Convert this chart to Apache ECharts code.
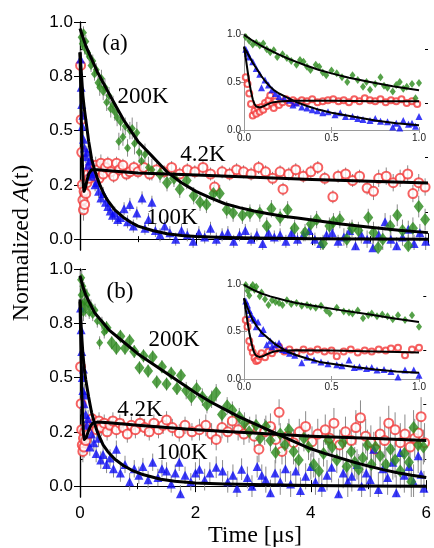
<!DOCTYPE html>
<html>
<head>
<meta charset="utf-8">
<script src="https://cdn.jsdelivr.net/npm/echarts@6/dist/echarts.min.js"></script>
<style>
  html, body { margin: 0; padding: 0; background: #fff; }
  #chart { width: 434px; height: 548px; }
</style>
</head>
<body>
<div id="chart"></div>
<script>
// tick labels
const yTickValues = [0, 0.25, 0.5, 0.75, 1];
const yTickLabels = ['0.0', '0.2', '0.5', '0.8', '1.0'];
const yMinorValues = [0.125, 0.375, 0.625, 0.875];
const xTickLabels = ['0', '2', '4', '6'];

// panel (a) data: [time, A, error]
const a200 = [[0.02,0.93,0.03],[0.04,0.90,0.03],[0.06,0.95,0.03],[0.08,0.88,0.03],[0.10,0.91,0.03],[0.13,0.86,0.03],[0.16,0.84,0.03],[0.19,0.80,0.03],[0.22,0.82,0.03],[0.25,0.76,0.03],[0.28,0.78,0.03],[0.31,0.72,0.03],[0.34,0.70,0.04],[0.37,0.74,0.04],[0.40,0.68,0.04],[0.43,0.70,0.04],[0.46,0.63,0.04],[0.50,0.66,0.04],[0.53,0.60,0.04],[0.57,0.62,0.04],[0.60,0.585,0.04],[0.64,0.56,0.04],[0.67,0.45,0.04],[0.70,0.54,0.04],[0.74,0.47,0.04],[0.78,0.52,0.04],[0.82,0.42,0.04],[0.86,0.50,0.04],[0.90,0.51,0.05],[0.94,0.44,0.05],[0.98,0.49,0.05],[1.02,0.40,0.05],[1.06,0.36,0.05],[1.12,0.39,0.05],[1.18,0.33,0.05],[1.24,0.32,0.05],
  [1.38,0.30,0.04],[1.50,0.26,0.04],[1.62,0.28,0.04],[1.72,0.23,0.04],[1.84,0.27,0.04],[1.96,0.20,0.04],[2.07,0.17,0.04],[2.18,0.16,0.04],[2.30,0.21,0.04],[2.41,0.21,0.04],[2.53,0.135,0.04],[2.64,0.12,0.04],[2.80,0.11,0.04],[2.93,0.12,0.04],[3.10,0.12,0.04],[3.22,0.06,0.04],[3.30,0.14,0.04],[3.45,0.10,0.04],[3.58,0.135,0.04],[3.70,0.05,0.04],[3.88,0.03,0.04],[3.98,0.07,0.04],[4.08,0.09,0.04],[4.19,-0.02,0.04],[4.30,0.06,0.04],[4.37,0.08,0.04],[4.48,0.09,0.04],[4.60,0.0,0.04],[4.69,0.05,0.04],[4.80,0.04,0.04],[4.97,0.10,0.04],[5.06,0.03,0.05],[5.14,-0.04,0.05],[5.22,0.0,0.05],[5.35,0.06,0.05],[5.47,0.11,0.05],[5.56,0.04,0.05],[5.66,-0.03,0.05],[5.74,0.05,0.05],[5.84,0.15,0.05],[5.95,0.09,0.05]];
const a100 = [[0.01,0.83,0.04],[0.02,0.70,0.04],[0.03,0.62,0.04],[0.04,0.52,0.04],[0.05,0.57,0.04],[0.06,0.46,0.04],[0.08,0.42,0.04],[0.10,0.38,0.03],[0.12,0.40,0.03],[0.14,0.34,0.03],[0.16,0.36,0.03],[0.18,0.31,0.03],[0.20,0.29,0.03],[0.23,0.30,0.03],[0.26,0.25,0.03],[0.29,0.26,0.03],[0.32,0.22,0.03],[0.36,0.19,0.03],[0.40,0.21,0.03],[0.44,0.17,0.03],[0.48,0.15,0.03],[0.52,0.13,0.03],[0.56,0.11,0.03],[0.60,0.12,0.03],[0.65,0.09,0.03],[0.70,0.10,0.03],[0.76,0.14,0.03],[0.82,0.08,0.03],[0.86,0.16,0.03],[0.92,0.06,0.03],[0.98,0.12,0.03],[1.07,0.19,0.03],[1.12,0.05,0.03],[1.18,0.09,0.03],[1.24,0.17,0.03],[1.30,0.04,0.03],[1.38,0.02,0.03],[1.46,0.06,0.03],
  [1.55,0.03,0.03],[1.65,0.0,0.03],[1.75,0.04,0.03],[1.85,0.02,0.03],[1.95,-0.01,0.03],[2.05,0.03,0.03],[2.15,0.01,0.03],[2.25,0.05,0.03],[2.35,0.0,0.03],[2.45,0.02,0.03],[2.55,0.03,0.03],[2.65,-0.01,0.03],[2.75,0.02,0.03],[2.85,0.04,0.03],[2.95,0.0,0.03],[3.05,0.02,0.03],[3.15,-0.02,0.03],[3.25,0.03,0.03],[3.35,0.01,0.03],[3.45,0.02,0.03],[3.55,-0.01,0.03],[3.65,0.03,0.03],[3.75,0.0,0.03],[3.85,0.02,0.03],[3.95,0.04,0.03],[4.05,0.0,0.03],[4.15,-0.02,0.03],[4.25,0.02,0.03],[4.35,0.03,0.03],[4.45,-0.01,0.03],[4.55,0.01,0.04],[4.65,0.04,0.04],[4.75,-0.03,0.04],[4.85,0.02,0.04],[4.95,0.0,0.04],[5.05,-0.04,0.04],[5.15,0.02,0.04],[5.26,0.08,0.04],[5.36,0.0,0.04],[5.46,-0.03,0.04],[5.56,0.01,0.04],[5.66,0.045,0.04],[5.76,-0.02,0.04],[5.86,0.03,0.04],[5.96,-0.01,0.04]];
const a42 = [[0.01,0.80,0.05],[0.02,0.55,0.05],[0.03,0.40,0.05],[0.04,0.25,0.05],[0.05,0.18,0.05],[0.06,0.135,0.05],[0.07,0.22,0.05],[0.08,0.16,0.05],[0.10,0.21,0.04],[0.12,0.26,0.04],[0.14,0.30,0.04],[0.16,0.28,0.04],[0.18,0.33,0.04],[0.21,0.31,0.04],[0.24,0.29,0.04],[0.27,0.34,0.04],[0.30,0.32,0.04],[0.33,0.28,0.04],[0.36,0.35,0.04],[0.40,0.30,0.03],[0.44,0.33,0.03],[0.48,0.35,0.03],[0.53,0.31,0.03],[0.58,0.29,0.03],[0.63,0.35,0.03],[0.68,0.32,0.03],[0.74,0.34,0.03],[0.80,0.30,0.03],[0.86,0.31,0.03],[0.93,0.33,0.03],[1.0,0.31,0.03],
  [1.1,0.33,0.03],[1.2,0.30,0.03],[1.32,0.32,0.03],[1.45,0.31,0.03],[1.58,0.33,0.03],[1.72,0.30,0.03],[1.85,0.32,0.03],[1.98,0.31,0.03],[2.12,0.33,0.03],[2.25,0.30,0.03],[2.32,0.24,0.03],[2.45,0.31,0.03],[2.58,0.30,0.03],[2.70,0.32,0.03],[2.82,0.31,0.03],[2.95,0.30,0.03],[3.08,0.33,0.03],[3.20,0.31,0.03],[3.32,0.28,0.03],[3.45,0.31,0.03],[3.50,0.23,0.03],[3.60,0.30,0.03],[3.72,0.32,0.03],[3.85,0.29,0.03],[3.98,0.31,0.03],[4.10,0.33,0.03],[4.22,0.28,0.03],[4.36,0.195,0.03],[4.45,0.29,0.03],[4.58,0.30,0.03],[4.70,0.27,0.03],[4.82,0.29,0.03],[4.95,0.235,0.03],[5.06,0.22,0.04],[5.15,0.28,0.04],[5.28,0.29,0.04],[5.40,0.26,0.04],[5.52,0.28,0.04],[5.65,0.30,0.04],[5.74,0.21,0.04],[5.84,0.26,0.04],[5.95,0.24,0.04]];
const a200Fit = [[0,0.97],[0.05,0.93],[0.1,0.89],[0.2,0.83],[0.3,0.77],[0.4,0.72],[0.5,0.67],[0.625,0.61],[0.75,0.55],[0.875,0.50],[1.0,0.45],[1.125,0.415],[1.25,0.38],[1.375,0.345],[1.5,0.31],[1.75,0.26],[2.0,0.22],[2.25,0.19],[2.5,0.163],[2.75,0.145],[3.0,0.13],[3.25,0.117],[3.5,0.105],[3.75,0.097],[4.0,0.088],[4.5,0.07],[5.0,0.055],[5.5,0.041],[6.0,0.03]];
const a100Fit = [[0,0.86],[0.01,0.82],[0.02,0.78],[0.035,0.72],[0.05,0.66],[0.075,0.60],[0.1,0.55],[0.125,0.50],[0.15,0.45],[0.175,0.41],[0.2,0.37],[0.25,0.32],[0.3,0.28],[0.35,0.245],[0.4,0.215],[0.45,0.19],[0.5,0.17],[0.6,0.135],[0.75,0.10],[0.875,0.078],[1.0,0.06],[1.25,0.04],[1.5,0.025],[1.75,0.017],[2.0,0.012],[2.5,0.008],[3.0,0.005],[4.0,0.002],[5.0,0.001],[6.0,0.0]];
const a42Fit = [[0,0.86],[0.015,0.65],[0.03,0.45],[0.045,0.32],[0.06,0.24],[0.07,0.22],[0.08,0.22],[0.1,0.245],[0.12,0.27],[0.15,0.30],[0.2,0.32],[0.3,0.32],[0.5,0.315],[1.0,0.305],[2.0,0.295],[3.0,0.285],[4.0,0.275],[5.0,0.267],[6.0,0.258]];

// panel (b) data
const b200 = [[0.01,0.95,0.04],[0.02,0.88,0.04],[0.03,0.96,0.04],[0.04,0.84,0.04],[0.05,0.92,0.04],[0.06,0.80,0.04],[0.07,0.90,0.04],[0.08,0.85,0.04],[0.10,0.82,0.04],[0.12,0.88,0.03],[0.14,0.84,0.03],[0.16,0.80,0.03],[0.19,0.83,0.03],[0.22,0.79,0.03],[0.26,0.81,0.03],[0.30,0.76,0.03],[0.34,0.66,0.03],[0.38,0.75,0.03],[0.42,0.71,0.03],[0.46,0.73,0.03],[0.55,0.66,0.03],[0.63,0.635,0.03],[0.70,0.69,0.03],[0.78,0.635,0.03],[0.86,0.67,0.03],[0.94,0.62,0.03],[1.03,0.545,0.03],[1.10,0.60,0.03],[1.18,0.53,0.03],[1.26,0.595,0.03],[1.33,0.48,0.03],[1.42,0.55,0.03],[1.50,0.47,0.03],[1.58,0.52,0.03],[1.68,0.45,0.03],[1.75,0.51,0.03],[1.84,0.44,0.04],[1.93,0.41,0.04],[2.02,0.45,0.04],[2.12,0.41,0.04],[2.20,0.375,0.04],[2.28,0.40,0.04],[2.36,0.43,0.04],[2.46,0.33,0.04],[2.55,0.37,0.04],[2.64,0.35,0.04],[2.76,0.32,0.04],[2.85,0.29,0.05],[2.93,0.25,0.05],[3.05,0.28,0.05],[3.12,0.22,0.05],[3.22,0.275,0.05],[3.30,0.21,0.05],[3.39,0.155,0.05],[3.47,0.24,0.05],[3.55,0.19,0.05],[3.62,0.26,0.05],[3.70,0.16,0.06],[3.79,0.12,0.06],[3.88,0.22,0.06],[3.96,0.18,0.06],[4.05,0.10,0.06],[4.14,0.07,0.06],[4.22,0.15,0.06],[4.30,0.21,0.06],[4.37,0.18,0.06],[4.45,0.12,0.06],[4.55,0.20,0.07],[4.62,0.09,0.07],[4.70,0.16,0.07],[4.76,0.11,0.07],[4.83,0.078,0.07],[4.90,0.13,0.07],[4.98,0.19,0.07],[5.05,0.10,0.07],[5.12,0.18,0.07],[5.20,0.14,0.07],[5.30,0.10,0.08],[5.38,0.17,0.08],[5.46,0.12,0.08],[5.55,0.07,0.08],[5.62,0.15,0.08],[5.70,0.11,0.08],[5.74,0.02,0.08],[5.78,0.27,0.08],[5.86,0.19,0.08],[5.95,0.18,0.08]];
const b100 = [[0.01,0.82,0.05],[0.02,0.72,0.05],[0.03,0.62,0.05],[0.04,0.50,0.05],[0.05,0.44,0.05],[0.06,0.54,0.05],[0.07,0.38,0.05],[0.08,0.42,0.05],[0.10,0.33,0.04],[0.12,0.28,0.04],[0.14,0.31,0.04],[0.17,0.18,0.04],[0.20,0.24,0.04],[0.24,0.20,0.04],[0.28,0.15,0.04],[0.32,0.22,0.04],[0.36,0.12,0.04],[0.40,0.146,0.04],[0.46,0.10,0.04],[0.52,0.13,0.04],[0.58,0.08,0.04],[0.63,0.17,0.04],[0.70,0.06,0.04],[0.78,0.10,0.04],[0.86,0.02,0.04],[0.94,0.08,0.04],[1.02,0.05,0.04],[1.09,0.09,0.04],[1.18,0.03,0.04],[1.26,0.11,0.04],[1.35,0.04,0.04],[1.42,0.08,0.04],[1.50,0.07,0.04],[1.58,0.01,0.04],[1.65,0.06,0.04],[1.72,0.11,0.04],[1.74,-0.035,0.04],[1.82,0.05,0.04],[1.92,0.02,0.04],[2.00,0.06,0.05],[2.07,0.078,0.05],[2.16,0.03,0.05],[2.25,0.06,0.05],[2.36,0.087,0.05],[2.47,0.07,0.05],[2.56,0.02,0.05],[2.65,0.05,0.05],[2.72,-0.01,0.05],[2.80,0.078,0.05],[2.90,0.04,0.05],[2.98,0.0,0.05],[3.07,0.09,0.05],[3.15,0.05,0.05],[3.22,0.03,0.06],[3.30,-0.03,0.06],[3.38,0.06,0.06],[3.47,0.02,0.06],[3.56,0.08,0.06],[3.65,0.01,0.06],[3.74,0.07,0.06],[3.82,-0.02,0.06],[3.91,0.045,0.06],[4.00,0.09,0.06],[4.08,0.02,0.06],[4.19,-0.005,0.07],[4.28,0.05,0.07],[4.36,0.087,0.07],[4.48,-0.035,0.07],[4.56,0.06,0.07],[4.64,0.02,0.07],[4.71,0.045,0.07],[4.80,0.10,0.07],[4.88,0.0,0.07],[4.96,0.06,0.07],[5.03,0.03,0.08],[5.09,0.17,0.08],[5.17,-0.015,0.08],[5.25,0.08,0.08],[5.33,0.04,0.08],[5.42,0.11,0.08],[5.48,-0.03,0.08],[5.55,0.155,0.08],[5.62,0.05,0.08],[5.70,0.09,0.08],[5.78,0.02,0.08],[5.86,0.14,0.08],[5.91,0.055,0.08],[5.96,-0.01,0.08]];
const b42 = [[0.01,0.55,0.05],[0.02,0.38,0.05],[0.03,0.26,0.05],[0.04,0.19,0.05],[0.05,0.16,0.05],[0.06,0.22,0.05],[0.07,0.18,0.05],[0.08,0.25,0.05],[0.10,0.21,0.04],[0.12,0.26,0.04],[0.15,0.24,0.04],[0.18,0.28,0.04],[0.21,0.31,0.04],[0.25,0.29,0.04],[0.29,0.26,0.04],[0.33,0.30,0.04],[0.37,0.27,0.04],[0.42,0.29,0.04],[0.47,0.25,0.04],[0.52,0.28,0.04],[0.57,0.30,0.04],[0.63,0.26,0.04],[0.69,0.29,0.04],[0.75,0.27,0.04],[0.82,0.24,0.04],[0.89,0.28,0.04],[0.96,0.26,0.04],[1.04,0.29,0.04],[1.12,0.27,0.04],[1.20,0.25,0.04],
  [1.28,0.29,0.04],[1.36,0.26,0.04],[1.44,0.28,0.04],[1.50,0.305,0.04],[1.60,0.27,0.04],[1.72,0.245,0.04],[1.82,0.28,0.04],[1.94,0.25,0.04],[2.07,0.26,0.05],[2.18,0.28,0.05],[2.28,0.24,0.05],[2.36,0.215,0.05],[2.46,0.27,0.05],[2.56,0.25,0.05],[2.64,0.30,0.05],[2.74,0.26,0.05],[2.84,0.24,0.05],[2.94,0.27,0.05],[3.02,0.23,0.05],[3.10,0.17,0.06],[3.20,0.25,0.06],[3.30,0.275,0.06],[3.39,0.215,0.06],[3.45,0.34,0.06],[3.50,0.16,0.06],[3.60,0.23,0.06],[3.70,0.20,0.06],[3.80,0.25,0.06],[3.91,0.275,0.07],[4.02,0.205,0.07],[4.12,0.24,0.07],[4.25,0.26,0.07],[4.33,0.22,0.07],[4.40,0.29,0.07],[4.50,0.19,0.07],[4.60,0.25,0.07],[4.70,0.21,0.07],[4.78,0.27,0.08],[4.86,0.315,0.08],[4.95,0.23,0.08],[5.04,0.20,0.08],[5.12,0.17,0.08],[5.20,0.24,0.08],[5.28,0.21,0.08],[5.35,0.29,0.08],[5.46,0.26,0.08],[5.55,0.20,0.09],[5.63,0.24,0.09],[5.72,0.18,0.09],[5.80,0.22,0.09],[5.86,0.245,0.09],[5.91,0.32,0.09],[5.97,0.20,0.09]];
const b200Fit = [[0,0.97],[0.03,0.94],[0.06,0.91],[0.1,0.88],[0.175,0.84],[0.25,0.80],[0.375,0.76],[0.5,0.72],[0.75,0.665],[1.0,0.61],[1.25,0.565],[1.5,0.52],[1.75,0.475],[2.0,0.43],[2.25,0.39],[2.5,0.355],[2.75,0.32],[3.0,0.29],[3.25,0.26],[3.5,0.23],[3.75,0.20],[4.0,0.172],[4.25,0.15],[4.5,0.13],[4.75,0.11],[5.0,0.092],[5.25,0.076],[5.5,0.062],[5.75,0.05],[6.0,0.04]];
const b100Fit = [[0,0.86],[0.01,0.80],[0.02,0.74],[0.035,0.67],[0.05,0.61],[0.075,0.54],[0.1,0.49],[0.125,0.45],[0.15,0.41],[0.175,0.375],[0.2,0.34],[0.25,0.29],[0.3,0.25],[0.35,0.22],[0.4,0.19],[0.48,0.16],[0.6,0.125],[0.75,0.095],[0.9,0.073],[1.07,0.055],[1.25,0.042],[1.4,0.032],[1.64,0.023],[2.0,0.015],[2.5,0.01],[3.0,0.007],[4.0,0.003],[5.0,0.001],[6.0,0.0]];
const b42Fit = [[0,0.85],[0.015,0.65],[0.03,0.45],[0.045,0.32],[0.06,0.24],[0.075,0.215],[0.09,0.21],[0.11,0.225],[0.14,0.25],[0.18,0.275],[0.22,0.29],[0.3,0.295],[0.5,0.292],[1.0,0.28],[2.0,0.26],[3.0,0.245],[4.0,0.23],[5.0,0.22],[6.0,0.21]];

// insets (first microsecond)
const ia200 = [[0.01,0.97],[0.03,0.93],[0.05,0.89],[0.07,0.91],[0.09,0.88],[0.11,0.90],[0.13,0.84],[0.15,0.81],[0.17,0.83],[0.19,0.76],[0.22,0.79],[0.245,0.75],[0.27,0.72],[0.30,0.68],[0.32,0.73],[0.34,0.71],[0.36,0.66],[0.38,0.625],[0.41,0.68],[0.43,0.66],[0.45,0.60],[0.47,0.57],[0.50,0.62],[0.53,0.59],[0.56,0.55],[0.59,0.50],[0.62,0.57],[0.65,0.52],[0.68,0.45],[0.70,0.50],[0.72,0.42],[0.75,0.48],[0.78,0.55],[0.80,0.46],[0.82,0.44],[0.85,0.40],[0.87,0.47],[0.89,0.50],[0.91,0.43],[0.93,0.45],[0.96,0.48],[0.98,0.33],[1.0,0.49]];
const ia100 = [[0.01,0.84],[0.02,0.80],[0.03,0.76],[0.05,0.71],[0.07,0.64],[0.09,0.58],[0.10,0.44],[0.12,0.52],[0.14,0.47],[0.16,0.42],[0.18,0.38],[0.20,0.35],[0.23,0.33],[0.26,0.31],[0.28,0.26],[0.30,0.28],[0.33,0.24],[0.36,0.23],[0.39,0.21],[0.42,0.20],[0.45,0.18],[0.48,0.19],[0.52,0.16],[0.55,0.18],[0.58,0.14],[0.62,0.14],[0.65,0.12],[0.68,0.11],[0.72,0.10],[0.75,0.12],[0.78,0.09],[0.82,0.085],[0.85,0.03],[0.87,0.07],[0.89,0.02],[0.91,0.10],[0.94,0.06],[0.96,0.07],[0.98,0.04],[1.0,0.14]];
const ia42 = [[0.01,0.55],[0.02,0.48],[0.03,0.38],[0.04,0.27],[0.05,0.15],[0.06,0.20],[0.07,0.17],[0.08,0.23],[0.09,0.19],[0.10,0.24],[0.11,0.21],[0.12,0.28],[0.13,0.25],[0.14,0.31],[0.15,0.36],[0.16,0.27],[0.17,0.23],[0.18,0.30],[0.20,0.26],[0.22,0.29],[0.24,0.32],[0.26,0.28],[0.28,0.31],[0.30,0.29],[0.33,0.31],[0.36,0.30],[0.39,0.32],[0.42,0.29],[0.45,0.30],[0.48,0.31],[0.51,0.32],[0.54,0.30],[0.57,0.31],[0.60,0.29],[0.63,0.32],[0.66,0.30],[0.69,0.33],[0.72,0.31],[0.75,0.30],[0.78,0.32],[0.81,0.29],[0.84,0.31],[0.87,0.30],[0.90,0.32],[0.93,0.28],[0.96,0.30],[0.99,0.27]];
const ia200Fit = [[0,0.99],[0.05,0.93],[0.1,0.875],[0.15,0.83],[0.2,0.785],[0.25,0.745],[0.3,0.71],[0.35,0.675],[0.43,0.625],[0.5,0.59],[0.6,0.545],[0.72,0.50],[0.85,0.455],[1.0,0.415]];
const ia100Fit = [[0,0.86],[0.01,0.83],[0.02,0.80],[0.035,0.75],[0.05,0.70],[0.075,0.63],[0.1,0.56],[0.125,0.50],[0.15,0.45],[0.175,0.41],[0.2,0.38],[0.245,0.34],[0.3,0.29],[0.36,0.25],[0.43,0.21],[0.5,0.18],[0.62,0.14],[0.75,0.10],[0.87,0.07],[1.0,0.05]];
const ia42Fit = [[0,0.87],[0.01,0.75],[0.02,0.62],[0.03,0.50],[0.04,0.40],[0.05,0.32],[0.06,0.27],[0.07,0.245],[0.08,0.235],[0.09,0.235],[0.1,0.24],[0.115,0.25],[0.13,0.265],[0.15,0.28],[0.17,0.29],[0.2,0.298],[0.25,0.303],[0.3,0.305],[0.5,0.305],[0.75,0.30],[1.0,0.30]];

const ib200 = [[0.01,0.99],[0.02,0.93],[0.03,0.88],[0.04,0.96],[0.05,0.99],[0.06,0.94],[0.07,0.97],[0.09,0.87],[0.10,0.91],[0.12,0.84],[0.14,0.78],[0.16,0.83],[0.18,0.81],[0.20,0.80],[0.22,0.78],[0.245,0.83],[0.27,0.79],[0.30,0.80],[0.33,0.77],[0.36,0.78],[0.38,0.76],[0.41,0.75],[0.44,0.77],[0.47,0.72],[0.49,0.69],[0.53,0.75],[0.57,0.71],[0.60,0.70],[0.62,0.69],[0.65,0.72],[0.68,0.64],[0.71,0.67],[0.73,0.69],[0.76,0.66],[0.79,0.68],[0.82,0.66],[0.85,0.63],[0.88,0.67],[0.92,0.62],[0.96,0.67],[1.0,0.55]];
const ib100 = [[0.01,0.82],[0.02,0.78],[0.03,0.72],[0.04,0.68],[0.05,0.64],[0.06,0.62],[0.07,0.55],[0.08,0.60],[0.10,0.48],[0.11,0.52],[0.13,0.36],[0.15,0.40],[0.16,0.34],[0.18,0.36],[0.20,0.38],[0.22,0.31],[0.24,0.30],[0.26,0.27],[0.29,0.25],[0.33,0.17],[0.36,0.23],[0.40,0.20],[0.44,0.18],[0.48,0.16],[0.53,0.15],[0.56,0.14],[0.60,0.20],[0.63,0.12],[0.66,0.13],[0.70,0.11],[0.73,0.12],[0.76,0.095],[0.80,0.10],[0.84,0.08],[0.88,0.02],[0.92,0.095],[0.97,0.095],[1.0,0.04]];
const ib42 = [[0.01,0.62],[0.02,0.55],[0.03,0.40],[0.04,0.33],[0.05,0.28],[0.06,0.22],[0.07,0.19],[0.08,0.20],[0.09,0.24],[0.10,0.27],[0.12,0.23],[0.14,0.29],[0.16,0.27],[0.18,0.31],[0.20,0.34],[0.23,0.29],[0.26,0.31],[0.30,0.28],[0.34,0.31],[0.38,0.29],[0.42,0.31],[0.46,0.29],[0.50,0.30],[0.53,0.24],[0.57,0.29],[0.61,0.31],[0.65,0.28],[0.69,0.30],[0.73,0.29],[0.77,0.31],[0.81,0.30],[0.84,0.32],[0.88,0.33],[0.92,0.25],[0.96,0.31],[1.0,0.33]];
const ib200Fit = [[0,0.99],[0.05,0.94],[0.1,0.90],[0.15,0.87],[0.2,0.845],[0.25,0.82],[0.3,0.80],[0.43,0.76],[0.55,0.725],[0.72,0.68],[0.85,0.64],[1.0,0.60]];
const ib100Fit = [[0,0.85],[0.01,0.80],[0.02,0.75],[0.035,0.68],[0.05,0.62],[0.075,0.55],[0.1,0.49],[0.125,0.45],[0.15,0.41],[0.175,0.37],[0.2,0.34],[0.245,0.29],[0.3,0.25],[0.36,0.215],[0.43,0.18],[0.5,0.16],[0.62,0.13],[0.75,0.10],[0.87,0.08],[1.0,0.065]];
const ib42Fit = [[0,0.85],[0.01,0.73],[0.02,0.60],[0.03,0.49],[0.04,0.40],[0.05,0.32],[0.06,0.27],[0.07,0.245],[0.08,0.23],[0.09,0.23],[0.1,0.235],[0.115,0.245],[0.13,0.26],[0.15,0.275],[0.17,0.29],[0.2,0.297],[0.25,0.30],[0.3,0.302],[0.5,0.30],[0.75,0.29],[1.0,0.28]];

const GREEN = '#2b8a1c';
const BLUE = '#0a0af5';
const RED = '#f23a3a';
const SANS = '"Liberation Sans", Arial, sans-serif';
const SERIF = '"Liberation Serif", "Times New Roman", serif';

const chart = echarts.init(document.getElementById('chart'), null, { renderer: 'canvas' });

const grids = [
  { left: 80, top: 22, width: 348, height: 228 },
  { left: 80, top: 269, width: 348, height: 228 },
  { left: 244, top: 34, width: 175, height: 96, show: true, backgroundColor: '#fff', borderWidth: 0, z: 3 },
  { left: 244, top: 284, width: 175, height: 95, show: true, backgroundColor: '#fff', borderWidth: 0, z: 3 }
];

const blackLine = { lineStyle: { color: '#000', width: 1.2 } };
const xAxes = [];
const yAxes = [];

function mainAxes(g, showX) {
  const xBase = {
    gridIndex: g, type: 'value', min: 0, max: 6, interval: 2,
    axisLine: blackLine, splitLine: { show: false },
    axisTick: { inside: true, length: 6, lineStyle: { color: '#000' } },
    minorTick: { show: true, splitNumber: 2, length: 3, lineStyle: { color: '#000' } }
  };
  xAxes.push(Object.assign({}, xBase, {
    position: 'bottom',
    axisLabel: {
      show: showX, margin: 8, fontFamily: SANS, fontSize: 17, color: '#000',
      formatter: v => xTickLabels[Math.round(v / 2)]
    }
  }));
  xAxes.push(Object.assign({}, xBase, { position: 'top', axisLabel: { show: false } }));

  const yBase = {
    gridIndex: g, type: 'value', min: -0.05, max: 1,
    axisLine: blackLine, splitLine: { show: false }
  };
  yAxes.push(Object.assign({}, yBase, {
    position: 'left',
    axisTick: { inside: true, length: 6, customValues: yTickValues, lineStyle: { color: '#000' } },
    axisLabel: {
      margin: 7, fontFamily: SANS, fontSize: 17, color: '#000', customValues: yTickValues,
      formatter: v => yTickLabels[yTickValues.findIndex(t => Math.abs(t - v) < 1e-6)]
    }
  }));
  yAxes.push(Object.assign({}, yBase, {
    position: 'right',
    axisTick: { inside: true, length: 6, customValues: yTickValues, lineStyle: { color: '#000' } },
    axisLabel: { show: false }
  }));
  ['left', 'right'].forEach(p => {
    yAxes.push(Object.assign({}, yBase, {
      position: p,
      axisLine: { show: false },
      axisTick: { inside: true, length: 3, customValues: yMinorValues, lineStyle: { color: '#000' } },
      axisLabel: { show: false }
    }));
  });
}

function insetAxes(g) {
  const line = { lineStyle: { color: '#9a9a9a', width: 1 } };
  const tick = { inside: true, length: 3, lineStyle: { color: '#9a9a9a' } };
  const lab = { fontFamily: SANS, fontSize: 10, color: '#222', margin: 3, formatter: v => v.toFixed(1) };
  xAxes.push({ gridIndex: g, type: 'value', min: 0, max: 1, interval: 0.5, position: 'bottom', z: 5,
    axisLine: line, axisTick: tick, splitLine: { show: false }, axisLabel: lab });
  xAxes.push({ gridIndex: g, type: 'value', min: 0, max: 1, interval: 0.5, position: 'top', z: 5,
    axisLine: line, axisTick: tick, splitLine: { show: false }, axisLabel: { show: false } });
  yAxes.push({ gridIndex: g, type: 'value', min: 0, max: 1, interval: 0.5, position: 'left', z: 5,
    axisLine: line, axisTick: tick, splitLine: { show: false }, axisLabel: lab });
  yAxes.push({ gridIndex: g, type: 'value', min: 0, max: 1, interval: 0.5, position: 'right', z: 5,
    axisLine: line, axisTick: tick, splitLine: { show: false }, axisLabel: { show: false } });
}

mainAxes(0, false);   // x 0,1  y 0..3
mainAxes(1, true);    // x 2,3  y 4..7
insetAxes(2);         // x 4,5  y 8,9
insetAxes(3);         // x 6,7  y 10,11

function errorBars(data, xi, yi) {
  return {
    type: 'custom', xAxisIndex: xi, yAxisIndex: yi, data: data, z: 1, clip: true,
    encode: { x: 0, y: 1 },
    renderItem: (params, api) => {
      const x = api.value(0), y = api.value(1), e = api.value(2);
      const p1 = api.coord([x, y - e]);
      const p2 = api.coord([x, y + e]);
      return { type: 'line', shape: { x1: p1[0], y1: p1[1], x2: p2[0], y2: p2[1] },
        style: { stroke: '#8a8a8a', lineWidth: 1 } };
    }
  };
}

function dots(data, xi, yi, kind, z, small, cut) {
  const s = { type: 'scatter', xAxisIndex: xi, yAxisIndex: yi, data: data, z: z, clip: true };
  if (kind === 'green') {
    s.symbol = 'diamond';
    s.symbolSize = small ? [6, 8] : (v => v[0] < cut ? [7, 9] : [10, 13]);
    s.itemStyle = { color: GREEN };
  } else if (kind === 'blue') {
    s.symbol = 'triangle';
    s.symbolSize = small ? 7 : 9;
    s.itemStyle = { color: BLUE };
  } else {
    s.symbol = 'emptyCircle';
    s.symbolSize = small ? 6 : 9;
    s.itemStyle = { color: RED, borderColor: RED, borderWidth: 1 };
  }
  return s;
}

// fit curves: straight segments between read points
function fit(data, xi, yi, w, z) {
  return {
    type: 'line', xAxisIndex: xi, yAxisIndex: yi, data: data, z: z,
    showSymbol: false, smooth: false, clip: true,
    lineStyle: { color: '#000', width: w, join: 'round' }
  };
}

const series = [
  errorBars(a200, 0, 0), errorBars(a100, 0, 0), errorBars(a42, 0, 0),
  dots(a42, 0, 0, 'red', 2), dots(a100, 0, 0, 'blue', 2), dots(a200, 0, 0, 'green', 2, false, 1.3),
  fit(a42Fit, 0, 0, 3, 2.5), fit(a100Fit, 0, 0, 3, 2.5), fit(a200Fit, 0, 0, 3, 2.5),

  errorBars(b200, 2, 4), errorBars(b100, 2, 4), errorBars(b42, 2, 4),
  dots(b42, 2, 4, 'red', 2), dots(b100, 2, 4, 'blue', 2), dots(b200, 2, 4, 'green', 2, false, 0.45),
  fit(b42Fit, 2, 4, 3, 2.5), fit(b100Fit, 2, 4, 3, 2.5), fit(b200Fit, 2, 4, 3, 2.5),

  dots(ia42, 4, 8, 'red', 6, true), dots(ia100, 4, 8, 'blue', 6, true), dots(ia200, 4, 8, 'green', 6, true),
  fit(ia42Fit, 4, 8, 2, 7), fit(ia100Fit, 4, 8, 2, 7), fit(ia200Fit, 4, 8, 2, 7),

  dots(ib42, 6, 10, 'red', 6, true), dots(ib100, 6, 10, 'blue', 6, true), dots(ib200, 6, 10, 'green', 6, true),
  fit(ib42Fit, 6, 10, 2, 7), fit(ib100Fit, 6, 10, 2, 7), fit(ib200Fit, 6, 10, 2, 7)
];

function label(text, x, y, size) {
  return { type: 'text', x: x, y: y, z: 10,
    style: { text: text, fontFamily: SERIF, fontSize: size || 23, fill: '#000', align: 'center', verticalAlign: 'middle' } };
}

const option = {
  animation: false,
  backgroundColor: '#fff',
  grid: grids,
  xAxis: xAxes,
  yAxis: yAxes,
  series: series,
  graphic: [
    label('(a)', 115, 44), label('200K', 143, 97), label('4.2K', 203, 155), label('100K', 172, 218),
    label('(b)', 120, 292), label('200K', 174, 340), label('4.2K', 140, 410), label('100K', 182, 453),
    label('Time [\u03bcs]', 255, 536, 24),
    {
      type: 'text', x: 22, y: 243, rotation: Math.PI / 2, z: 10,
      style: {
        text: 'Normalized {i|A}(t)', fontFamily: SERIF, fontSize: 24, fill: '#000',
        align: 'center', verticalAlign: 'middle',
        rich: { i: { fontFamily: SERIF, fontSize: 24, fontStyle: 'italic', fill: '#000' } }
      }
    }
  ]
};

chart.setOption(option);
</script>
</body>
</html>
